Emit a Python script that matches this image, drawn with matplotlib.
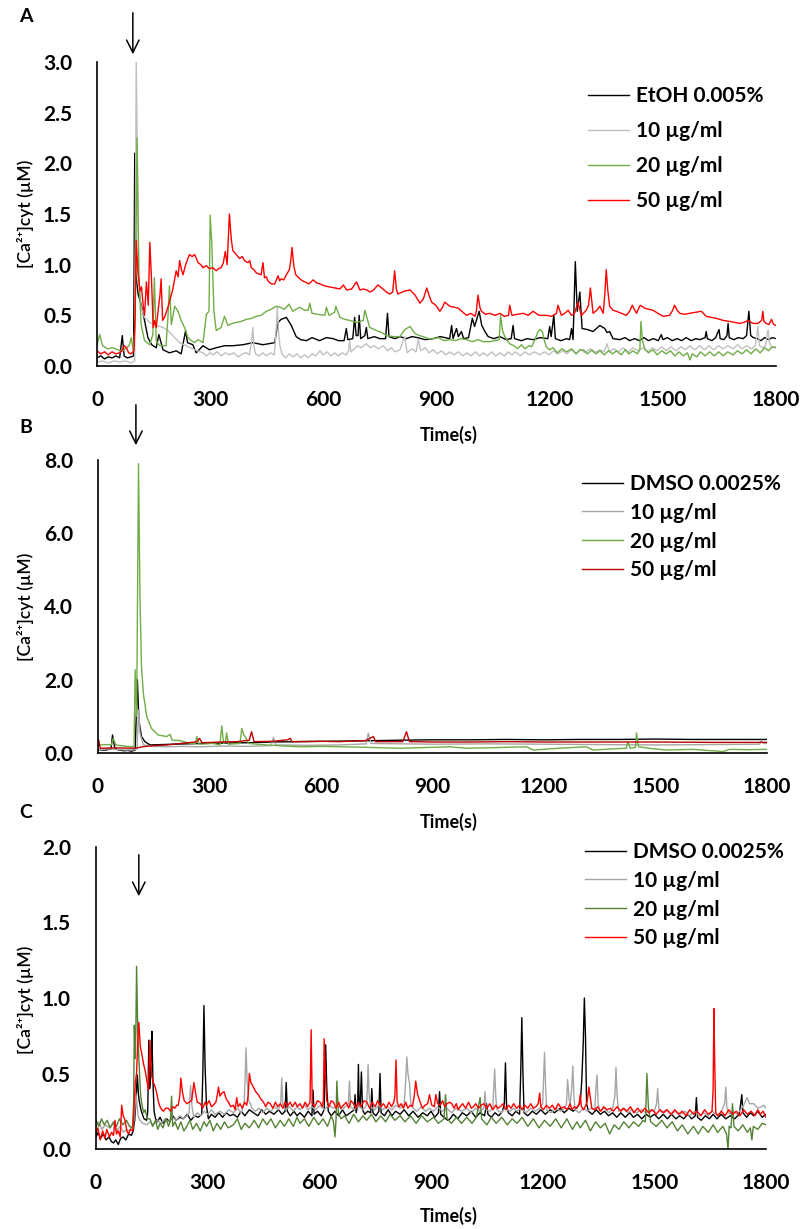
import numpy as np
import matplotlib
matplotlib.use("Agg")
import matplotlib.pyplot as plt

plt.rcParams["font.family"] = ["Lato", "DejaVu Sans"]

W, H = 806, 1229

# ---- data: (time s, [Ca2+]cyt uM) ----
A_LABELS = ["EtOH 0.005%", "10 µg/ml", "20 µg/ml", "50 µg/ml"]
BC_LABELS = ["DMSO 0.0025%", "10 µg/ml", "20 µg/ml", "50 µg/ml"]

A_ETOH = [(0, 0.08), (10, 0.1), (20, 0.07), (30, 0.09), (40, 0.08), (50, 0.1), (60, 0.08), (67, 0.3),
          (72, 0.1), (80, 0.08), (90, 0.09), (97, 0.1), (100, 2.1), (103, 0.9), (109, 0.71), (117, 0.61),
          (126, 0.45), (135, 0.28), (145, 0.21), (157, 0.18), (164, 0.31), (175, 0.16), (192, 0.13),
          (210, 0.15), (223, 0.12), (235, 0.35), (240, 0.23), (254, 0.21), (263, 0.13), (281, 0.2),
          (298, 0.16), (316, 0.18), (338, 0.2), (360, 0.2), (387, 0.21), (413, 0.23), (440, 0.21),
          (471, 0.23), (480, 0.43), (488, 0.46), (502, 0.48), (515, 0.4), (528, 0.29), (540, 0.26),
          (555, 0.25), (570, 0.28), (590, 0.25), (608, 0.28), (626, 0.27), (640, 0.25), (655, 0.25),
          (661, 0.37), (665, 0.26), (678, 0.27), (683, 0.48), (687, 0.3), (692, 0.3), (695, 0.5), (699, 0.27),
          (710, 0.3), (714, 0.38), (718, 0.27), (735, 0.29), (750, 0.27), (765, 0.27), (770, 0.52),
          (774, 0.29), (790, 0.27), (803, 0.29), (820, 0.27), (835, 0.29), (850, 0.28), (870, 0.26),
          (891, 0.27), (910, 0.29), (935, 0.27), (940, 0.4), (944, 0.27), (953, 0.37), (958, 0.29),
          (966, 0.34), (972, 0.27), (985, 0.28), (995, 0.47), (1001, 0.39), (1013, 0.54), (1020, 0.4),
          (1030, 0.33), (1037, 0.29), (1052, 0.27), (1068, 0.29), (1085, 0.26), (1098, 0.27), (1103, 0.4),
          (1107, 0.27), (1125, 0.25), (1140, 0.27), (1156, 0.26), (1175, 0.28), (1195, 0.27), (1200, 0.39),
          (1204, 0.29), (1211, 0.5), (1215, 0.27), (1230, 0.25), (1245, 0.27), (1253, 0.26), (1258, 0.37),
          (1262, 0.26), (1268, 1.03), (1273, 0.54), (1280, 0.73), (1286, 0.37), (1300, 0.36), (1315, 0.34),
          (1333, 0.4), (1346, 0.37), (1352, 0.33), (1359, 0.34), (1368, 0.27), (1386, 0.26), (1400, 0.28),
          (1412, 0.25), (1425, 0.27), (1438, 0.25), (1450, 0.28), (1462, 0.25), (1475, 0.27), (1488, 0.25),
          (1496, 0.31), (1500, 0.26), (1512, 0.28), (1525, 0.25), (1538, 0.27), (1550, 0.25), (1562, 0.28),
          (1575, 0.25), (1588, 0.27), (1598, 0.26), (1612, 0.28), (1615, 0.34), (1618, 0.27), (1630, 0.25),
          (1640, 0.28), (1649, 0.36), (1652, 0.27), (1662, 0.26), (1670, 0.3), (1673, 0.42), (1676, 0.28),
          (1688, 0.26), (1700, 0.28), (1713, 0.27), (1722, 0.3), (1728, 0.54), (1733, 0.3), (1740, 0.28),
          (1750, 0.27), (1760, 0.25), (1770, 0.28), (1780, 0.26), (1790, 0.28), (1800, 0.27)]

A_10 = [(0, 0.04), (15, 0.05), (30, 0.03), (45, 0.05), (60, 0.04), (75, 0.05), (90, 0.03), (100, 0.05),
        (104, 3.0), (111, 0.9), (117, 0.58), (126, 0.48), (140, 0.43), (157, 0.4), (175, 0.38), (188, 0.35),
        (201, 0.3), (219, 0.23), (237, 0.2), (259, 0.16), (281, 0.13), (290, 0.1), (300, 0.13), (307, 0.11),
        (318, 0.14), (330, 0.1), (340, 0.13), (351, 0.11), (362, 0.13), (375, 0.09), (385, 0.12), (396, 0.13),
        (404, 0.11), (410, 0.25), (413, 0.38), (416, 0.2), (420, 0.12), (430, 0.1), (440, 0.13), (449, 0.1),
        (460, 0.13), (470, 0.11), (474, 0.3), (478, 0.58), (481, 0.35), (485, 0.2), (490, 0.12), (500, 0.08),
        (510, 0.12), (519, 0.09), (530, 0.12), (540, 0.08), (550, 0.11), (560, 0.08), (570, 0.12), (580, 0.1),
        (591, 0.15), (600, 0.11), (610, 0.14), (620, 0.1), (630, 0.13), (640, 0.1), (650, 0.13), (660, 0.11),
        (667, 0.15), (670, 0.25), (673, 0.14), (680, 0.16), (690, 0.2), (700, 0.18), (714, 0.22), (725, 0.18),
        (735, 0.2), (745, 0.17), (759, 0.2), (770, 0.15), (780, 0.18), (790, 0.14), (803, 0.16), (816, 0.29),
        (822, 0.13), (835, 0.17), (846, 0.14), (852, 0.26), (858, 0.15), (870, 0.18), (880, 0.13), (891, 0.16),
        (902, 0.12), (913, 0.15), (925, 0.11), (935, 0.14), (946, 0.11), (958, 0.14), (970, 0.1), (980, 0.13),
        (992, 0.1), (1003, 0.14), (1014, 0.1), (1024, 0.13), (1035, 0.1), (1046, 0.14), (1057, 0.1),
        (1068, 0.13), (1080, 0.1), (1090, 0.14), (1100, 0.11), (1110, 0.14), (1122, 0.1), (1134, 0.14),
        (1146, 0.11), (1160, 0.14), (1174, 0.11), (1186, 0.14), (1198, 0.11), (1210, 0.15), (1222, 0.12),
        (1234, 0.15), (1245, 0.12), (1258, 0.16), (1270, 0.12), (1282, 0.16), (1294, 0.13), (1306, 0.17),
        (1318, 0.13), (1333, 0.16), (1344, 0.14), (1352, 0.22), (1358, 0.14), (1370, 0.17), (1382, 0.14),
        (1395, 0.18), (1408, 0.14), (1421, 0.18), (1434, 0.15), (1447, 0.18), (1460, 0.14), (1472, 0.18),
        (1485, 0.15), (1497, 0.19), (1509, 0.15), (1522, 0.19), (1535, 0.15), (1548, 0.19), (1560, 0.16),
        (1572, 0.2), (1585, 0.16), (1598, 0.2), (1610, 0.16), (1622, 0.2), (1635, 0.16), (1648, 0.2),
        (1660, 0.17), (1673, 0.2), (1686, 0.17), (1698, 0.21), (1710, 0.17), (1722, 0.2), (1735, 0.17),
        (1745, 0.2), (1749, 0.3), (1752, 0.39), (1756, 0.2), (1765, 0.18), (1772, 0.2), (1776, 0.3),
        (1779, 0.36), (1783, 0.22), (1790, 0.18), (1800, 0.19)]

A_20 = [(0, 0.2), (7, 0.31), (15, 0.2), (28, 0.17), (42, 0.18), (55, 0.16), (69, 0.15), (85, 0.2), (91, 0.28),
        (96, 0.15), (101, 0.4), (106, 2.25), (111, 0.9), (117, 0.41), (126, 0.25), (140, 0.21), (148, 0.31),
        (152, 0.87), (157, 0.25), (166, 0.2), (183, 0.2), (188, 0.48), (192, 0.79), (197, 0.41), (206, 0.59),
        (215, 0.54), (223, 0.45), (232, 0.38), (241, 0.28), (250, 0.25), (259, 0.23), (268, 0.26), (281, 0.23),
        (290, 0.51), (297, 0.54), (300, 1.49), (304, 1.23), (310, 0.54), (316, 0.35), (329, 0.38), (338, 0.49),
        (347, 0.4), (358, 0.42), (369, 0.43), (382, 0.44), (396, 0.46), (410, 0.47), (422, 0.49), (435, 0.5),
        (449, 0.54), (462, 0.56), (475, 0.59), (485, 0.58), (497, 0.56), (509, 0.61), (519, 0.54), (528, 0.56),
        (538, 0.58), (550, 0.55), (560, 0.55), (564, 0.62), (570, 0.52), (585, 0.51), (604, 0.5), (608, 0.58),
        (615, 0.5), (630, 0.53), (633, 0.59), (644, 0.48), (657, 0.46), (670, 0.45), (688, 0.43), (706, 0.45),
        (710, 0.55), (723, 0.38), (741, 0.35), (755, 0.33), (767, 0.3), (785, 0.29), (803, 0.29), (816, 0.36),
        (830, 0.39), (843, 0.32), (855, 0.3), (865, 0.29), (878, 0.27), (891, 0.27), (905, 0.28), (920, 0.25),
        (935, 0.26), (950, 0.25), (965, 0.27), (980, 0.26), (995, 0.24), (1010, 0.26), (1024, 0.24),
        (1041, 0.24), (1066, 0.26), (1070, 0.5), (1075, 0.35), (1081, 0.29), (1094, 0.22), (1105, 0.2),
        (1115, 0.17), (1125, 0.21), (1135, 0.17), (1145, 0.2), (1152, 0.19), (1160, 0.25), (1168, 0.33),
        (1174, 0.36), (1181, 0.34), (1186, 0.25), (1191, 0.19), (1200, 0.16), (1209, 0.18), (1220, 0.13),
        (1232, 0.17), (1245, 0.14), (1258, 0.17), (1270, 0.12), (1280, 0.16), (1289, 0.16), (1300, 0.12),
        (1312, 0.16), (1323, 0.12), (1333, 0.15), (1345, 0.11), (1356, 0.15), (1367, 0.12), (1377, 0.15),
        (1390, 0.11), (1400, 0.16), (1410, 0.12), (1421, 0.15), (1432, 0.12), (1439, 0.16), (1442, 0.44),
        (1446, 0.25), (1452, 0.17), (1462, 0.13), (1474, 0.16), (1485, 0.11), (1497, 0.15), (1509, 0.12),
        (1520, 0.15), (1532, 0.1), (1543, 0.14), (1554, 0.1), (1565, 0.13), (1572, 0.06), (1578, 0.12),
        (1590, 0.09), (1600, 0.14), (1612, 0.1), (1624, 0.14), (1636, 0.1), (1648, 0.14), (1660, 0.1),
        (1672, 0.14), (1686, 0.11), (1698, 0.15), (1710, 0.12), (1722, 0.16), (1734, 0.12), (1746, 0.17),
        (1758, 0.13), (1770, 0.18), (1780, 0.15), (1790, 0.19), (1800, 0.18)]

A_50 = [(0, 0.15), (10, 0.12), (20, 0.14), (30, 0.11), (40, 0.14), (50, 0.12), (60, 0.13), (66, 0.15),
        (72, 0.2), (78, 0.18), (84, 0.13), (90, 0.12), (98, 0.15), (101, 0.5), (104, 1.24), (109, 0.9),
        (114, 0.74), (118, 0.78), (123, 0.58), (126, 0.5), (131, 0.83), (136, 0.6), (140, 1.22), (144, 0.9),
        (149, 0.38), (153, 0.45), (157, 0.38), (163, 0.58), (167, 0.7), (170, 0.86), (174, 0.45), (179, 0.48),
        (188, 0.58), (200, 0.74), (210, 0.94), (215, 0.88), (219, 1.04), (224, 0.95), (228, 0.9), (235, 1.0),
        (240, 1.05), (245, 1.1), (252, 1.08), (259, 1.1), (268, 1.02), (275, 1.0), (281, 0.97), (290, 0.99),
        (298, 0.96), (307, 0.97), (316, 0.94), (322, 0.96), (329, 0.97), (335, 1.02), (340, 1.13), (345, 1.0),
        (351, 1.5), (356, 1.25), (360, 1.14), (369, 1.1), (378, 1.06), (385, 1.08), (391, 1.04), (400, 1.02),
        (405, 1.04), (409, 0.97), (416, 0.95), (422, 0.92), (428, 0.91), (435, 0.9), (440, 1.02), (444, 0.87),
        (449, 0.88), (453, 0.84), (462, 0.81), (471, 0.81), (480, 0.89), (484, 0.84), (488, 0.86), (495, 0.85),
        (502, 0.9), (510, 0.95), (514, 1.05), (517, 1.17), (522, 0.98), (527, 0.9), (538, 0.86), (545, 0.84),
        (551, 0.83), (562, 0.81), (573, 0.85), (582, 0.82), (591, 0.81), (604, 0.79), (617, 0.78),
        (630, 0.77), (644, 0.76), (653, 0.8), (662, 0.75), (675, 0.76), (688, 0.83), (697, 0.75), (706, 0.76),
        (715, 0.75), (724, 0.73), (733, 0.75), (745, 0.8), (758, 0.76), (767, 0.73), (776, 0.71), (784, 0.73),
        (789, 0.94), (794, 0.75), (798, 0.71), (803, 0.72), (816, 0.74), (830, 0.75), (843, 0.7), (856, 0.62),
        (865, 0.66), (874, 0.77), (880, 0.7), (887, 0.63), (898, 0.6), (909, 0.54), (916, 0.58), (922, 0.63),
        (935, 0.59), (946, 0.58), (958, 0.57), (970, 0.53), (980, 0.5), (991, 0.52), (1002, 0.49),
        (1006, 0.55), (1010, 0.7), (1015, 0.58), (1019, 0.54), (1030, 0.51), (1041, 0.52), (1055, 0.5),
        (1068, 0.52), (1080, 0.49), (1091, 0.5), (1094, 0.6), (1100, 0.5), (1115, 0.51), (1130, 0.52),
        (1143, 0.5), (1156, 0.54), (1172, 0.5), (1191, 0.5), (1205, 0.49), (1218, 0.52), (1222, 0.6),
        (1231, 0.5), (1240, 0.52), (1249, 0.55), (1258, 0.5), (1266, 0.52), (1275, 0.63), (1284, 0.5),
        (1297, 0.55), (1303, 0.6), (1308, 0.77), (1315, 0.52), (1325, 0.55), (1333, 0.59), (1342, 0.52),
        (1346, 0.7), (1350, 0.95), (1354, 0.75), (1359, 0.59), (1368, 0.55), (1377, 0.54), (1390, 0.52),
        (1403, 0.5), (1412, 0.54), (1419, 0.6), (1430, 0.52), (1440, 0.6), (1452, 0.57), (1463, 0.56),
        (1474, 0.55), (1487, 0.52), (1501, 0.49), (1518, 0.5), (1526, 0.55), (1531, 0.6), (1538, 0.55),
        (1545, 0.52), (1558, 0.51), (1571, 0.52), (1586, 0.53), (1602, 0.54), (1615, 0.49), (1628, 0.48),
        (1642, 0.47), (1660, 0.45), (1677, 0.44), (1690, 0.43), (1704, 0.42), (1715, 0.43), (1726, 0.45),
        (1739, 0.42), (1752, 0.42), (1762, 0.45), (1765, 0.54), (1768, 0.44), (1774, 0.42), (1782, 0.41),
        (1788, 0.46), (1794, 0.41), (1800, 0.4)]

B_DMSO = [(0, 0.1), (10, 0.08), (20, 0.08), (30, 0.1), (35, 0.1), (39, 0.49), (45, 0.15), (52, 0.09), (60, 0.08),
          (70, 0.06), (80, 0.07), (90, 0.05), (100, 0.08), (106, 2.0), (110, 0.9), (117, 0.45), (126, 0.31),
          (140, 0.22), (170, 0.23), (200, 0.24), (240, 0.25), (274, 0.26), (330, 0.27), (400, 0.28),
          (470, 0.3), (544, 0.31), (620, 0.32), (700, 0.33), (760, 0.34), (813, 0.35), (900, 0.36),
          (1000, 0.36), (1100, 0.37), (1200, 0.36), (1300, 0.37), (1400, 0.37), (1500, 0.38), (1600, 0.37),
          (1700, 0.37), (1800, 0.37)]

B_10 = [(0, 0.08), (25, 0.11), (50, 0.1), (75, 0.08), (100, 0.09), (105, 0.12), (109, 1.17), (113, 0.54),
        (122, 0.22), (150, 0.18), (185, 0.17), (230, 0.18), (274, 0.17), (340, 0.19), (400, 0.18),
        (466, 0.2), (472, 0.43), (478, 0.22), (560, 0.21), (650, 0.22), (722, 0.25), (727, 0.54),
        (735, 0.26), (820, 0.25), (900, 0.24), (1050, 0.25), (1200, 0.24), (1350, 0.23), (1500, 0.22),
        (1650, 0.23), (1780, 0.24), (1785, 0.35), (1790, 0.26), (1800, 0.26)]

B_20 = [(0, 0.22), (30, 0.23), (36, 0.22), (41, 0.4), (48, 0.22), (70, 0.19), (90, 0.17), (97, 0.18),
        (100, 2.27), (104, 1.0), (109, 7.9), (113, 4.2), (117, 2.36), (122, 1.63), (131, 1.0), (144, 0.67),
        (162, 0.49), (185, 0.45), (194, 0.51), (199, 0.35), (221, 0.34), (248, 0.26), (262, 0.26), (266, 0.45),
        (271, 0.24), (310, 0.26), (328, 0.22), (333, 0.74), (338, 0.26), (343, 0.3), (346, 0.55), (351, 0.24),
        (382, 0.26), (387, 0.67), (392, 0.5), (396, 0.45), (405, 0.26), (454, 0.22), (500, 0.19), (544, 0.17),
        (600, 0.18), (650, 0.17), (700, 0.16), (740, 0.15), (813, 0.13), (880, 0.15), (947, 0.17),
        (992, 0.13), (1080, 0.15), (1153, 0.17), (1171, 0.08), (1240, 0.13), (1314, 0.17), (1332, 0.08),
        (1380, 0.11), (1422, 0.13), (1426, 0.31), (1432, 0.13), (1446, 0.15), (1449, 0.55), (1454, 0.17),
        (1490, 0.12), (1530, 0.08), (1600, 0.1), (1682, 0.04), (1700, 0.1), (1750, 0.09), (1800, 0.1)]

B_50 = [(0, 0.2), (2, 0.35), (6, 0.13), (50, 0.14), (100, 0.13), (120, 0.17), (150, 0.2), (185, 0.22),
        (230, 0.27), (262, 0.3), (266, 0.31), (273, 0.4), (280, 0.28), (330, 0.3), (375, 0.31), (407, 0.35),
        (413, 0.58), (420, 0.31), (470, 0.32), (510, 0.36), (517, 0.4), (522, 0.31), (600, 0.32), (650, 0.31),
        (720, 0.34), (741, 0.45), (747, 0.31), (780, 0.31), (820, 0.31), (830, 0.58), (838, 0.31),
        (900, 0.3), (1000, 0.3), (1100, 0.31), (1200, 0.3), (1350, 0.3), (1500, 0.3), (1650, 0.29),
        (1800, 0.29)]

C_DMSO = [(0, 0.08), (6, 0.11), (12, 0.07), (20, 0.1), (27, 0.06), (35, 0.08), (41, 0.05), (47, 0.04),
          (53, 0.06), (60, 0.03), (66, 0.07), (73, 0.08), (80, 0.06), (88, 0.1), (95, 0.09), (100, 0.12),
          (104, 0.19), (108, 0.35), (111, 0.49), (114, 0.36), (116, 0.32), (120, 0.27), (123, 0.24),
          (129, 0.2), (136, 0.19), (139, 0.25), (142, 0.72), (144, 0.4), (146, 0.45), (148, 0.6), (150, 0.78),
          (153, 0.45), (156, 0.25), (160, 0.2), (165, 0.18), (172, 0.21), (180, 0.17), (190, 0.2), (198, 0.18),
          (206, 0.22), (215, 0.19), (225, 0.21), (235, 0.2), (245, 0.23), (255, 0.19), (265, 0.22), (275, 0.21),
          (284, 0.23), (287, 0.5), (290, 0.95), (293, 0.55), (297, 0.28), (302, 0.2), (310, 0.23), (320, 0.21),
          (330, 0.24), (340, 0.21), (350, 0.24), (360, 0.22), (369, 0.23), (380, 0.21), (390, 0.25),
          (400, 0.22), (412, 0.26), (423, 0.24), (435, 0.22), (445, 0.26), (456, 0.23), (466, 0.25),
          (478, 0.23), (490, 0.26), (500, 0.23), (508, 0.25), (511, 0.44), (514, 0.25), (522, 0.22),
          (532, 0.25), (540, 0.22), (548, 0.24), (560, 0.21), (570, 0.25), (580, 0.22), (583, 0.39),
          (586, 0.23), (595, 0.25), (605, 0.22), (613, 0.26), (615, 0.5), (617, 0.69), (620, 0.4), (624, 0.25),
          (632, 0.22), (642, 0.25), (652, 0.22), (662, 0.26), (672, 0.22), (683, 0.24), (694, 0.26),
          (696, 0.36), (699, 0.24), (703, 0.3), (705, 0.56), (707, 0.28), (710, 0.3), (713, 0.51), (716, 0.26),
          (722, 0.23), (730, 0.25), (738, 0.24), (741, 0.4), (744, 0.24), (752, 0.22), (760, 0.25), (763, 0.5),
          (766, 0.24), (775, 0.22), (785, 0.26), (795, 0.22), (805, 0.25), (817, 0.23), (828, 0.26),
          (840, 0.22), (852, 0.25), (865, 0.21), (878, 0.24), (890, 0.22), (900, 0.25), (910, 0.21),
          (920, 0.24), (923, 0.38), (926, 0.23), (935, 0.21), (945, 0.19), (951, 0.2), (960, 0.23), (972, 0.2),
          (984, 0.24), (996, 0.22), (1008, 0.25), (1020, 0.21), (1032, 0.24), (1044, 0.22), (1049, 0.3),
          (1053, 0.23), (1062, 0.21), (1072, 0.24), (1082, 0.22), (1092, 0.25), (1097, 0.3), (1100, 0.57),
          (1103, 0.28), (1108, 0.24), (1118, 0.22), (1128, 0.25), (1138, 0.23), (1141, 0.5), (1144, 0.87),
          (1147, 0.5), (1150, 0.24), (1160, 0.22), (1172, 0.25), (1183, 0.23), (1195, 0.26), (1207, 0.23),
          (1220, 0.26), (1232, 0.24), (1247, 0.27), (1258, 0.24), (1270, 0.27), (1282, 0.25), (1294, 0.28),
          (1301, 0.31), (1305, 0.45), (1309, 0.7), (1312, 1.0), (1315, 0.75), (1318, 0.3), (1323, 0.25),
          (1333, 0.23), (1344, 0.26), (1355, 0.23), (1366, 0.25), (1377, 0.22), (1388, 0.24), (1399, 0.21),
          (1410, 0.24), (1422, 0.21), (1434, 0.24), (1444, 0.21), (1455, 0.23), (1466, 0.2), (1478, 0.23),
          (1489, 0.21), (1500, 0.23), (1512, 0.2), (1524, 0.23), (1535, 0.2), (1546, 0.23), (1558, 0.2),
          (1568, 0.22), (1579, 0.2), (1590, 0.23), (1600, 0.2), (1610, 0.22), (1613, 0.34), (1616, 0.21),
          (1626, 0.19), (1637, 0.22), (1648, 0.2), (1658, 0.23), (1668, 0.2), (1680, 0.23), (1692, 0.2),
          (1704, 0.22), (1716, 0.2), (1728, 0.23), (1732, 0.3), (1735, 0.36), (1738, 0.24), (1748, 0.21),
          (1758, 0.24), (1767, 0.22), (1778, 0.25), (1790, 0.21), (1800, 0.23)]

C_10 = [(0, 0.15), (8, 0.18), (16, 0.13), (25, 0.16), (37, 0.14), (46, 0.17), (55, 0.12), (65, 0.15), (74, 0.11),
        (82, 0.13), (90, 0.12), (96, 0.15), (100, 0.14), (104, 0.25), (107, 0.37), (110, 0.3), (113, 0.22),
        (118, 0.19), (126, 0.17), (136, 0.16), (145, 0.18), (154, 0.16), (165, 0.19), (175, 0.17), (185, 0.2),
        (194, 0.18), (205, 0.21), (215, 0.19), (225, 0.22), (235, 0.2), (244, 0.22), (250, 0.24), (254, 0.42),
        (258, 0.28), (263, 0.21), (272, 0.24), (282, 0.22), (291, 0.25), (300, 0.23), (310, 0.26), (320, 0.23),
        (333, 0.25), (345, 0.23), (357, 0.26), (369, 0.24), (380, 0.27), (390, 0.24), (398, 0.3), (401, 0.5),
        (403, 0.67), (406, 0.45), (410, 0.32), (415, 0.3), (419, 0.27), (428, 0.25), (438, 0.27), (448, 0.24),
        (459, 0.27), (470, 0.25), (480, 0.28), (490, 0.26), (496, 0.3), (499, 0.47), (502, 0.28), (510, 0.26),
        (520, 0.28), (530, 0.25), (540, 0.28), (548, 0.26), (560, 0.29), (570, 0.26), (580, 0.28), (590, 0.26),
        (602, 0.29), (613, 0.26), (625, 0.29), (638, 0.27), (650, 0.29), (660, 0.26), (670, 0.28), (678, 0.3),
        (681, 0.45), (684, 0.28), (694, 0.26), (705, 0.29), (716, 0.26), (725, 0.28), (728, 0.33), (731, 0.56),
        (734, 0.35), (738, 0.28), (748, 0.26), (760, 0.29), (770, 0.26), (782, 0.28), (795, 0.26), (805, 0.29),
        (817, 0.27), (828, 0.3), (832, 0.45), (835, 0.61), (838, 0.5), (842, 0.44), (846, 0.3), (852, 0.27),
        (862, 0.25), (874, 0.28), (885, 0.25), (896, 0.27), (907, 0.25), (918, 0.28), (930, 0.25), (942, 0.27),
        (955, 0.24), (968, 0.27), (982, 0.25), (996, 0.27), (1008, 0.24), (1020, 0.27), (1032, 0.25),
        (1042, 0.27), (1045, 0.38), (1048, 0.26), (1058, 0.25), (1066, 0.27), (1069, 0.42), (1071, 0.53),
        (1074, 0.35), (1077, 0.26), (1088, 0.24), (1100, 0.27), (1112, 0.25), (1122, 0.27), (1131, 0.25),
        (1142, 0.27), (1155, 0.24), (1168, 0.27), (1180, 0.25), (1192, 0.27), (1200, 0.3), (1203, 0.5),
        (1205, 0.64), (1208, 0.4), (1211, 0.26), (1222, 0.24), (1235, 0.27), (1248, 0.25), (1260, 0.27),
        (1264, 0.3), (1267, 0.46), (1271, 0.33), (1274, 0.3), (1278, 0.4), (1281, 0.55), (1284, 0.35),
        (1287, 0.26), (1298, 0.24), (1310, 0.27), (1320, 0.25), (1330, 0.27), (1340, 0.26), (1343, 0.4),
        (1346, 0.49), (1349, 0.3), (1353, 0.25), (1365, 0.27), (1378, 0.24), (1388, 0.27), (1394, 0.35),
        (1397, 0.54), (1400, 0.35), (1404, 0.25), (1415, 0.27), (1428, 0.24), (1440, 0.26), (1452, 0.24),
        (1465, 0.26), (1478, 0.24), (1490, 0.26), (1500, 0.25), (1506, 0.3), (1509, 0.4), (1512, 0.27),
        (1520, 0.24), (1532, 0.26), (1545, 0.23), (1558, 0.25), (1570, 0.23), (1582, 0.25), (1595, 0.22),
        (1608, 0.25), (1620, 0.22), (1632, 0.24), (1645, 0.22), (1656, 0.25), (1668, 0.22), (1680, 0.25),
        (1689, 0.3), (1692, 0.41), (1695, 0.27), (1702, 0.23), (1712, 0.25), (1722, 0.23), (1732, 0.26),
        (1742, 0.3), (1749, 0.34), (1756, 0.3), (1767, 0.3), (1778, 0.27), (1788, 0.28), (1794, 0.29),
        (1800, 0.27)]

C_20 = [(0, 0.19), (8, 0.15), (15, 0.2), (22, 0.16), (30, 0.19), (38, 0.14), (47, 0.18), (55, 0.15), (63, 0.2),
        (72, 0.16), (82, 0.19), (90, 0.15), (98, 0.14), (101, 0.3), (103, 0.82), (105, 0.6), (107, 0.77),
        (109, 1.21), (112, 0.8), (116, 0.55), (120, 0.35), (123, 0.3), (128, 0.24), (132, 0.26), (138, 0.2),
        (145, 0.2), (152, 0.15), (160, 0.19), (166, 0.13), (172, 0.17), (180, 0.14), (188, 0.2), (195, 0.15),
        (200, 0.19), (203, 0.35), (206, 0.15), (212, 0.18), (220, 0.13), (228, 0.18), (236, 0.12), (244, 0.15),
        (252, 0.19), (260, 0.13), (270, 0.17), (280, 0.12), (290, 0.18), (297, 0.15), (306, 0.19), (315, 0.12),
        (325, 0.17), (335, 0.13), (345, 0.18), (355, 0.14), (369, 0.16), (380, 0.2), (390, 0.13), (400, 0.17),
        (412, 0.14), (425, 0.19), (437, 0.14), (448, 0.2), (459, 0.16), (470, 0.2), (482, 0.14), (495, 0.19),
        (506, 0.15), (518, 0.2), (530, 0.15), (540, 0.21), (548, 0.17), (560, 0.2), (572, 0.15), (585, 0.21),
        (598, 0.16), (610, 0.2), (622, 0.15), (632, 0.22), (638, 0.18), (642, 0.08), (645, 0.2), (647, 0.45),
        (651, 0.24), (658, 0.2), (668, 0.22), (680, 0.17), (692, 0.23), (705, 0.18), (717, 0.22), (727, 0.19),
        (740, 0.23), (752, 0.18), (765, 0.22), (778, 0.18), (790, 0.23), (803, 0.19), (817, 0.22), (830, 0.18),
        (845, 0.22), (860, 0.17), (875, 0.22), (890, 0.18), (907, 0.21), (920, 0.17), (935, 0.2), (939, 0.36),
        (943, 0.2), (955, 0.17), (968, 0.21), (982, 0.17), (996, 0.21), (1010, 0.17), (1022, 0.21),
        (1032, 0.34), (1036, 0.2), (1050, 0.16), (1062, 0.21), (1075, 0.17), (1090, 0.21), (1105, 0.16),
        (1118, 0.2), (1131, 0.17), (1145, 0.21), (1160, 0.15), (1175, 0.2), (1190, 0.14), (1205, 0.19),
        (1220, 0.15), (1235, 0.2), (1250, 0.14), (1265, 0.2), (1280, 0.13), (1292, 0.18), (1301, 0.14),
        (1315, 0.19), (1328, 0.12), (1342, 0.18), (1355, 0.14), (1368, 0.17), (1380, 0.1), (1392, 0.16),
        (1405, 0.13), (1418, 0.18), (1432, 0.14), (1444, 0.18), (1458, 0.15), (1470, 0.19), (1476, 0.18),
        (1480, 0.5), (1484, 0.28), (1490, 0.18), (1505, 0.15), (1520, 0.19), (1534, 0.14), (1548, 0.18),
        (1562, 0.12), (1575, 0.16), (1590, 0.1), (1605, 0.15), (1618, 0.1), (1630, 0.15), (1645, 0.11),
        (1658, 0.16), (1670, 0.11), (1684, 0.15), (1694, 0.1), (1698, 0.0), (1701, 0.15), (1706, 0.14),
        (1710, 0.3), (1714, 0.15), (1725, 0.12), (1738, 0.16), (1750, 0.11), (1758, 0.14), (1762, 0.06),
        (1766, 0.15), (1778, 0.13), (1790, 0.17), (1800, 0.16)]

C_50 = [(0, 0.1), (5, 0.14), (11, 0.06), (18, 0.12), (24, 0.07), (29, 0.13), (36, 0.08), (42, 0.11), (47, 0.09),
        (51, 0.19), (55, 0.1), (60, 0.12), (65, 0.08), (69, 0.29), (73, 0.22), (78, 0.19), (83, 0.12),
        (87, 0.1), (93, 0.13), (99, 0.12), (103, 0.32), (106, 0.45), (109, 0.5), (112, 0.7), (115, 0.84),
        (119, 0.68), (123, 0.63), (128, 0.56), (132, 0.52), (137, 0.45), (141, 0.39), (145, 0.72), (148, 0.55),
        (150, 0.48), (154, 0.44), (158, 0.42), (163, 0.37), (168, 0.31), (172, 0.28), (177, 0.26), (181, 0.25),
        (187, 0.27), (194, 0.27), (200, 0.25), (206, 0.28), (212, 0.27), (217, 0.29), (221, 0.29), (225, 0.35),
        (228, 0.47), (232, 0.38), (237, 0.32), (244, 0.3), (250, 0.31), (257, 0.32), (263, 0.44), (267, 0.38),
        (272, 0.31), (280, 0.3), (287, 0.27), (293, 0.31), (297, 0.29), (304, 0.32), (310, 0.28), (315, 0.29),
        (322, 0.31), (326, 0.36), (329, 0.41), (333, 0.35), (338, 0.37), (344, 0.38), (350, 0.33), (356, 0.31),
        (362, 0.28), (369, 0.29), (374, 0.26), (378, 0.34), (382, 0.28), (387, 0.3), (393, 0.27), (399, 0.31),
        (405, 0.29), (409, 0.36), (412, 0.5), (416, 0.44), (423, 0.41), (429, 0.38), (436, 0.36), (443, 0.33),
        (450, 0.31), (456, 0.28), (462, 0.31), (468, 0.3), (475, 0.27), (482, 0.31), (488, 0.28), (495, 0.3),
        (502, 0.27), (508, 0.31), (514, 0.28), (521, 0.31), (528, 0.28), (535, 0.31), (541, 0.28), (548, 0.3),
        (555, 0.27), (562, 0.31), (568, 0.28), (575, 0.31), (578, 0.79), (581, 0.3), (588, 0.28), (595, 0.32),
        (602, 0.31), (608, 0.28), (611, 0.33), (613, 0.73), (616, 0.5), (620, 0.32), (626, 0.28), (632, 0.32),
        (638, 0.31), (645, 0.27), (652, 0.31), (658, 0.27), (665, 0.29), (672, 0.31), (679, 0.27), (685, 0.32),
        (692, 0.3), (698, 0.27), (705, 0.31), (712, 0.28), (720, 0.32), (728, 0.31), (735, 0.27), (742, 0.31),
        (750, 0.28), (757, 0.32), (765, 0.28), (772, 0.3), (780, 0.27), (787, 0.31), (794, 0.28), (800, 0.31),
        (803, 0.35), (806, 0.59), (809, 0.31), (814, 0.28), (820, 0.3), (826, 0.27), (832, 0.31), (838, 0.27),
        (844, 0.29), (850, 0.28), (855, 0.35), (859, 0.45), (864, 0.36), (871, 0.31), (877, 0.27), (884, 0.29),
        (891, 0.3), (896, 0.36), (902, 0.29), (909, 0.28), (913, 0.36), (918, 0.3), (925, 0.29), (931, 0.32),
        (937, 0.28), (943, 0.3), (950, 0.31), (956, 0.3), (962, 0.27), (968, 0.3), (973, 0.26), (978, 0.28),
        (985, 0.3), (993, 0.27), (1001, 0.31), (1008, 0.27), (1014, 0.28), (1020, 0.3), (1028, 0.27),
        (1035, 0.29), (1042, 0.3), (1050, 0.27), (1058, 0.3), (1066, 0.26), (1074, 0.29), (1080, 0.27),
        (1086, 0.28), (1094, 0.3), (1101, 0.26), (1108, 0.29), (1115, 0.27), (1122, 0.3), (1130, 0.27),
        (1138, 0.29), (1145, 0.26), (1152, 0.29), (1160, 0.27), (1168, 0.3), (1175, 0.27), (1182, 0.28),
        (1188, 0.3), (1192, 0.37), (1195, 0.28), (1202, 0.26), (1210, 0.29), (1218, 0.27), (1226, 0.29),
        (1234, 0.26), (1242, 0.3), (1250, 0.27), (1258, 0.28), (1266, 0.26), (1274, 0.3), (1278, 0.26),
        (1285, 0.28), (1292, 0.27), (1298, 0.3), (1301, 0.36), (1304, 0.28), (1310, 0.26), (1316, 0.29),
        (1320, 0.32), (1324, 0.41), (1328, 0.34), (1332, 0.27), (1340, 0.26), (1348, 0.28), (1356, 0.25),
        (1364, 0.28), (1373, 0.26), (1382, 0.27), (1390, 0.25), (1400, 0.28), (1410, 0.25), (1418, 0.27),
        (1426, 0.25), (1436, 0.28), (1445, 0.24), (1455, 0.27), (1465, 0.24), (1474, 0.27), (1485, 0.24),
        (1495, 0.26), (1505, 0.23), (1515, 0.26), (1525, 0.24), (1534, 0.26), (1545, 0.23), (1555, 0.26),
        (1565, 0.23), (1575, 0.25), (1585, 0.22), (1595, 0.26), (1605, 0.23), (1615, 0.25), (1625, 0.22),
        (1635, 0.26), (1645, 0.23), (1655, 0.25), (1658, 0.4), (1660, 0.93), (1662, 0.6), (1665, 0.24),
        (1672, 0.22), (1680, 0.25), (1690, 0.22), (1700, 0.26), (1710, 0.23), (1720, 0.25), (1730, 0.22),
        (1740, 0.26), (1750, 0.23), (1760, 0.25), (1770, 0.22), (1778, 0.26), (1785, 0.23), (1792, 0.25),
        (1800, 0.21)]

X_TICKS = [0, 300, 600, 900, 1200, 1500, 1800]


def fig_rect(left, top, right, bottom):
    return [left / W, 1 - bottom / H, (right - left) / W, (bottom - top) / H]


panels = [
    dict(letter="A", rect=(97, 62, 776, 366), ymax=3.0, ystep=0.5,
         series=[A_ETOH, A_10, A_20, A_50], labels=A_LABELS,
         colors=["#000000", "#c0c0c0", "#70ad47", "#ff0000"],
         arrow_t=95, arrow_px=(10, 57), letter_y=17, xlabel_y=435, ylabel_y=214,
         leg=(588, 86), leg_space=0.72),
    dict(letter="B", rect=(98, 460, 767, 753), ymax=8.0, ystep=2.0,
         series=[B_DMSO, B_10, B_20, B_50], labels=BC_LABELS,
         colors=["#000000", "#a6a6a6", "#70ad47", "#c00000"],
         arrow_t=102, arrow_px=(402, 448), letter_y=427, xlabel_y=822, ylabel_y=607,
         leg=(582, 474), leg_space=0.42),
    dict(letter="C", rect=(96, 847, 766, 1149), ymax=2.0, ystep=0.5,
         series=[C_DMSO, C_10, C_20, C_50], labels=BC_LABELS,
         colors=["#000000", "#a6a6a6", "#548235", "#ff0000"],
         arrow_t=115, arrow_px=(852, 899), letter_y=813, xlabel_y=1216, ylabel_y=1000,
         leg=(585, 842), leg_space=0.42),
]

fig = plt.figure(figsize=(W / 100, H / 100), dpi=100)

for p in panels:
    left, top, right, bottom = p["rect"]
    ax = fig.add_axes(fig_rect(left, top, right, bottom))
    for data, lab, col in zip(p["series"], p["labels"], p["colors"]):
        d = np.array(data)
        ax.plot(d[:, 0], d[:, 1], color=col, lw=1.0, label=lab)

    ax.set_xlim(0, 1800)
    ax.set_ylim(0, p["ymax"])
    ax.set_xticks(X_TICKS)
    ax.set_yticks(np.arange(0, p["ymax"] + 1e-9, p["ystep"]))
    ax.yaxis.set_major_formatter(matplotlib.ticker.FormatStrFormatter("%.1f"))
    ax.tick_params(length=0, labelsize=15)
    ax.tick_params(axis="x", pad=17)
    ax.tick_params(axis="y", pad=18)
    for t in ax.get_xticklabels() + ax.get_yticklabels():
        t.set_fontweight("bold")
    for s in ("top", "right"):
        ax.spines[s].set_visible(False)
    for s in ("left", "bottom"):
        ax.spines[s].set_linewidth(1.2)
        ax.spines[s].set_color("#000000")

    ax.legend(loc="upper left", bbox_to_anchor=(p["leg"][0] / W, 1 - p["leg"][1] / H),
              bbox_transform=fig.transFigure, frameon=False, borderpad=0, borderaxespad=0,
              handlelength=1.95, handletextpad=0.35, labelspacing=p["leg_space"],
              prop=dict(size=15, weight="bold"))

    # stimulus arrow
    y0, y1 = p["arrow_px"]
    ax.annotate("", xy=(p["arrow_t"], (bottom - y1) / (bottom - top)),
                xytext=(p["arrow_t"], (bottom - y0) / (bottom - top)),
                xycoords=("data", "axes fraction"), textcoords=("data", "axes fraction"),
                arrowprops=dict(arrowstyle="->,head_length=0.9,head_width=0.45", color="black", lw=1.1),
                annotation_clip=False)

    fig.text(26 / W, 1 - p["letter_y"] / H, p["letter"], fontsize=14, fontweight="bold",
             ha="center", va="center")
    fig.text(449 / W, 1 - p["xlabel_y"] / H, "Time(s)", fontsize=13, fontweight="bold",
             ha="center", va="center")
    fig.text(25 / W, 1 - p["ylabel_y"] / H, "[Ca²⁺]cyt (µM)", fontsize=12.5, fontweight="semibold",
             rotation=90, ha="center", va="center")

fig.savefig("out.png", dpi=100)
